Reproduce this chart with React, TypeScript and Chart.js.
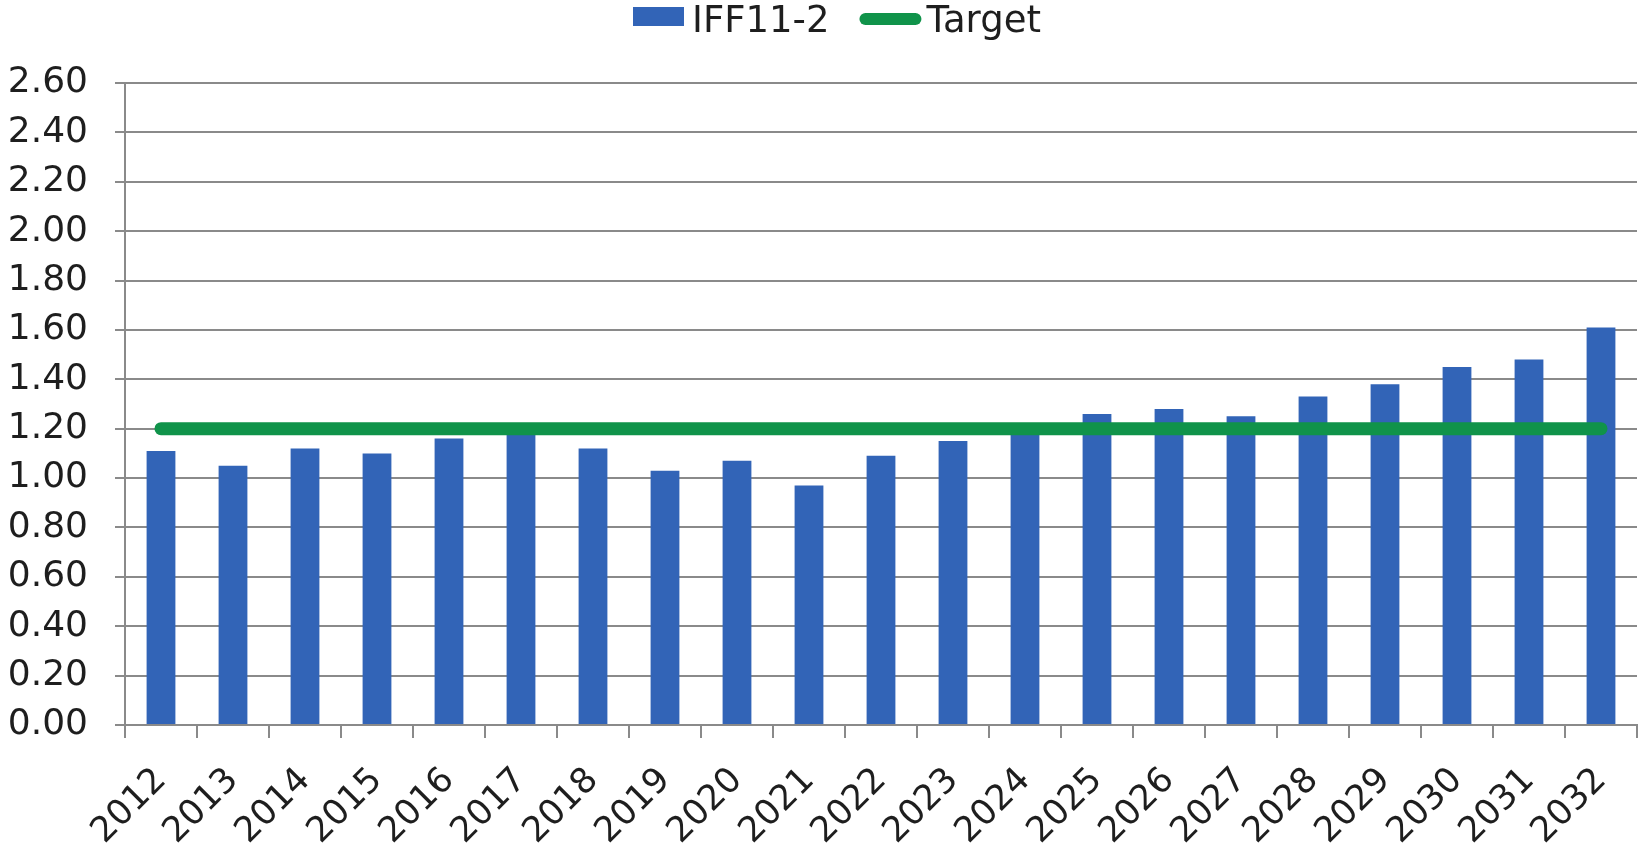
import React, { useEffect, useRef } from "react";
import { Chart, registerables } from "chart.js";

Chart.register(...registerables);

// Years on the category axis
const years = [
  "2012", "2013", "2014", "2015", "2016", "2017", "2018", "2019", "2020", "2021", "2022",
  "2023", "2024", "2025", "2026", "2027", "2028", "2029", "2030", "2031", "2032",
];

// IFF11-2 ratio per year
const iffValues = [
  1.11, 1.05, 1.12, 1.10, 1.16, 1.18, 1.12, 1.03, 1.07, 0.97, 1.09,
  1.15, 1.19, 1.26, 1.28, 1.25, 1.33, 1.38, 1.45, 1.48, 1.61,
];

// Target level per year
const targetValues = [
  1.20, 1.20, 1.20, 1.20, 1.20, 1.20, 1.20, 1.20, 1.20, 1.20, 1.20,
  1.20, 1.20, 1.20, 1.20, 1.20, 1.20, 1.20, 1.20, 1.20, 1.20,
];

// Value axis ticks
const yTickValues = [0, 0.2, 0.4, 0.6, 0.8, 1.0, 1.2, 1.4, 1.6, 1.8, 2.0, 2.2, 2.4, 2.6];

const BAR_BLUE = "#3264b7";
const TARGET_GREEN = "#10934a";
const GRID_GREY = "#8a8a8a";
const TEXT_COLOR = "#1e1e1e";
const FONT = "'DejaVu Sans', Verdana, sans-serif";

// Legend row across the top: a filled swatch for the bars, a rounded stroke for the line
const topLegend = {
  id: "topLegend",
  afterDraw(chart: any) {
    const ctx: CanvasRenderingContext2D = chart.ctx;
    const datasets = chart.data.datasets;
    const bar = datasets.find((d: any) => d.type === "bar");
    const line = datasets.find((d: any) => d.type === "line");
    ctx.save();
    ctx.font = `37px ${FONT}`;
    ctx.textBaseline = "alphabetic";
    ctx.textAlign = "left";

    let x = 633;
    ctx.fillStyle = bar.backgroundColor;
    ctx.fillRect(x, 7, 51, 19);
    x += 59;
    ctx.fillStyle = TEXT_COLOR;
    ctx.fillText(bar.label, x, 32);
    x += ctx.measureText(bar.label).width + 30;

    ctx.strokeStyle = line.borderColor;
    ctx.lineWidth = 12;
    ctx.lineCap = "round";
    ctx.beginPath();
    ctx.moveTo(x + 6, 19);
    ctx.lineTo(x + 56, 19);
    ctx.stroke();
    x += 67;
    ctx.fillStyle = TEXT_COLOR;
    ctx.fillText(line.label, x, 32);
    ctx.restore();
  },
};

export default function App() {
  const canvasRef = useRef<HTMLCanvasElement | null>(null);

  useEffect(() => {
    const canvas = canvasRef.current;
    if (!canvas) return;

    const chart = new Chart(canvas, {
      type: "bar",
      data: {
        labels: years,
        datasets: [
          {
            type: "line",
            label: "Target",
            data: targetValues,
            borderColor: TARGET_GREEN,
            backgroundColor: TARGET_GREEN,
            borderWidth: 13,
            borderCapStyle: "round",
            pointRadius: 0,
            pointHoverRadius: 0,
            fill: false,
            tension: 0,
            order: 0,
          },
          {
            type: "bar",
            label: "IFF11-2",
            data: iffValues,
            backgroundColor: BAR_BLUE,
            borderWidth: 0,
            categoryPercentage: 1,
            barPercentage: 0.4,
            order: 1,
          },
        ],
      },
      options: {
        responsive: false,
        animation: false,
        devicePixelRatio: 1,
        layout: { padding: { top: 83, right: 5, bottom: 0, left: 0 } },
        plugins: {
          legend: { display: false },
          tooltip: { enabled: false },
        },
        scales: {
          x: {
            offset: true,
            grid: {
              offset: true,
              drawOnChartArea: false,
              drawTicks: true,
              tickLength: 13,
              color: GRID_GREY,
              lineWidth: 2,
            },
            border: { display: true, color: GRID_GREY, width: 2 },
            ticks: {
              color: TEXT_COLOR,
              font: { family: FONT, size: 35 },
              minRotation: 45,
              maxRotation: 45,
              autoSkip: false,
              padding: 22,
            },
            afterFit(scale: any) {
              scale.height = 124;
              // rotated labels hang left of their ticks, so no side room is needed
              scale.paddingLeft = 0;
              scale.paddingRight = 0;
            },
          },
          y: {
            min: 0,
            max: 2.6,
            afterBuildTicks(scale: any) {
              scale.ticks = yTickValues.map((v) => ({ value: v }));
            },
            grid: {
              color: GRID_GREY,
              lineWidth: 2,
              drawTicks: true,
              tickLength: 10,
            },
            border: { display: true, color: GRID_GREY, width: 2 },
            ticks: {
              color: TEXT_COLOR,
              font: { family: FONT, size: 36 },
              padding: 27,
              callback: (v: any) => Number(v).toFixed(2),
            },
            afterFit(scale: any) {
              scale.width = 125;
            },
          },
        },
      },
      plugins: [topLegend],
    });

    return () => chart.destroy();
  }, []);

  return (
    <div
      style={{
        position: "fixed",
        left: 0,
        top: 0,
        width: 1642,
        height: 849,
        background: "#ffffff",
      }}
    >
      <canvas ref={canvasRef} width={1642} height={849} style={{ display: "block" }} />
    </div>
  );
}
